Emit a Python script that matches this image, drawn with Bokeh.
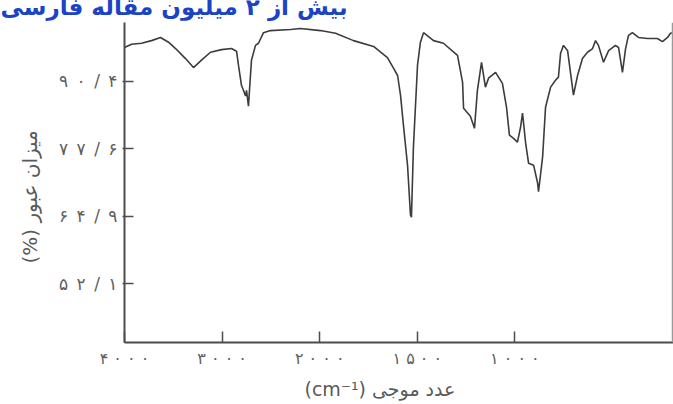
import numpy as np
from bokeh.plotting import figure
from bokeh.models import Range1d, FixedTicker, Span, Title
from bokeh.embed import file_html
from bokeh.resources import INLINE

# Infrared spectrum: wavenumber (cm^-1) and transmittance (%)
wavenumber = [4000, 3928, 3826, 3723, 3631, 3549, 3477, 3375, 3293, 3211,
              3119, 3006, 2904, 2852, 2832, 2801, 2781, 2760, 2750, 2730,
              2699, 2658, 2627, 2576, 2504, 2299, 2197, 1996, 1919, 1827,
              1724, 1653, 1622, 1601, 1586, 1571, 1550, 1535, 1530, 1520,
              1499, 1484, 1468, 1417, 1366, 1294, 1268, 1263, 1228, 1207,
              1192, 1171, 1151, 1135, 1099, 1064, 1043, 1028, 1007, 987,
              971, 961, 945, 930, 904, 884, 879, 858, 843, 817,
              792, 777, 766, 751, 730, 700, 679, 654, 628, 602,
              587, 572, 546, 520, 485, 469, 449, 433, 418, 398,
              367, 321, 270, 244, 218, 203, 188]
transmittance = [96.8, 97.4, 97.6, 98.1, 98.7, 97.8, 96.6, 94.7, 93.0, 94.4,
                 95.9, 96.4, 96.6, 96.1, 93.4, 89.6, 88.7, 87.6, 88.7, 85.7,
                 94.4, 97.2, 97.6, 99.6, 100.0, 100.2, 100.4, 100.0, 99.5, 98.1,
                 97.0, 94.9, 92.9, 91.5, 87.8, 82.1, 74.5, 65.1, 64.7, 77.8,
                 93.4, 97.8, 99.6, 98.1, 97.6, 95.3, 90.2, 85.3, 83.8, 81.5,
                 88.7, 94.0, 89.3, 91.0, 92.1, 90.0, 85.5, 80.2, 79.6, 78.9,
                 81.7, 84.4, 78.7, 74.9, 74.5, 71.2, 69.5, 76.1, 85.5, 89.3,
                 90.6, 91.2, 95.7, 97.2, 96.2, 87.8, 91.5, 94.7, 95.9, 96.6,
                 98.1, 97.2, 94.0, 96.2, 97.2, 96.8, 92.1, 96.6, 99.1, 99.6,
                 98.7, 98.5, 98.5, 97.9, 98.7, 99.5, 99.6]

# Axis ticks
x_tick_wn = [4000, 3000, 2000, 1500, 1000]
x_tick_labels = ["۴ ۰ ۰ ۰", "۳ ۰ ۰ ۰", "۲ ۰ ۰ ۰", "۱ ۵ ۰ ۰", "۱ ۰ ۰ ۰"]
y_tick_values = [90.4, 77.6, 64.9, 52.1]
y_tick_labels = ["۹\u2002۰\u2002/\u2002۴", "۷\u2002۷\u2002/\u2002۶",
                 "۶\u2002۴\u2002/\u2002۹", "۵\u2002۲\u2002/\u2002۱"]

header_text = "بیش از ۲ میلیون مقاله فارسی"
x_title = "\u202bعدد موجی (cm⁻¹)\u202c"
y_title = "\u202bمیزان عبور (%)\u202c"


def chart_x(wn):
    """Spectrometer chart scale: 1000 cm^-1 per unit above 2000, 500 below."""
    wn = np.asarray(wn, dtype=float)
    return np.where(wn >= 2000, (4000 - wn) / 1000.0, 2 + (2000 - wn) / 500.0)


# The plot is drawn SHIFT px taller and lifted by the same amount, so the
# header line runs off the top edge of the page.
SHIFT = 15
W, H = 673, 404 + SHIFT
FRAME_L, FRAME_T, FRAME_R, FRAME_B = 124, 22 + SHIFT, 673, 343 + SHIFT
X0, X1 = 0.0, 5.625
Y0, Y1 = 40.97, 101.53

p = figure(width=W, height=H, x_range=Range1d(X0, X1), y_range=Range1d(Y0, Y1),
           min_border_left=FRAME_L, min_border_right=W - FRAME_R,
           min_border_top=FRAME_T, min_border_bottom=H - FRAME_B,
           output_backend="svg", toolbar_location=None)
p.styles = {"position": "relative", "top": f"-{SHIFT}px"}
p.outline_line_color = None
p.xgrid.visible = False
p.ygrid.visible = False
p.background_fill_color = "white"
p.border_fill_color = "white"

xs = chart_x(wavenumber)
p.line(xs, transmittance, line_color="#3c3c3c", line_width=1.6)

xt = [float(v) for v in chart_x(x_tick_wn)]
p.xaxis.ticker = FixedTicker(ticks=xt)
p.xaxis.major_label_overrides = {t: s for t, s in zip(xt, x_tick_labels)}
p.yaxis.ticker = FixedTicker(ticks=y_tick_values)
p.yaxis.major_label_overrides = {t: s for t, s in zip(y_tick_values, y_tick_labels)}

for ax in (p.xaxis[0], p.yaxis[0]):
    ax.axis_line_color = "#4d4d4d"
    ax.axis_line_width = 2
    ax.major_tick_line_color = "#4d4d4d"
    ax.major_tick_line_width = 1.5
    ax.minor_tick_line_color = None
    ax.major_label_text_font = "DejaVu Sans"
    ax.major_label_text_color = "#5e5e5e"

p.xaxis.major_label_text_font_size = "16px"
p.yaxis.major_label_text_font_size = "17px"
p.xaxis.major_tick_in = 11
p.xaxis.major_tick_out = 0
p.xaxis.major_label_standoff = 6
p.yaxis.major_tick_in = 9
p.yaxis.major_tick_out = 2
p.yaxis.major_label_standoff = 5

# light edge on the right side of the chart
p.add_layout(Span(location=X0 + (672 - FRAME_L) * (X1 - X0) / (FRAME_R - FRAME_L),
                  dimension="height", line_color="#9a9a9a", line_width=1.5))

# axis titles and header
p.add_layout(Title(text=x_title, align="left", offset=180, standoff=10,
                   text_font="DejaVu Sans", text_font_size="19px",
                   text_font_style="normal", text_color="#5a5a5a"), "below")
p.add_layout(Title(text=y_title, align="left", offset=79, standoff=28,
                   text_font="DejaVu Sans", text_font_size="20px",
                   text_font_style="normal", text_color="#5a5a5a"), "left")
p.title.text = header_text
p.title.align = "left"
p.title.vertical_align = "bottom"
p.title.offset = -124
p.title.standoff = 5
p.title.text_font = "DejaVu Sans"
p.title.text_font_size = "23px"
p.title.text_font_style = "bold"
p.title.text_color = "#1b43c6"

open("out.html", "w").write(file_html(p, INLINE))
